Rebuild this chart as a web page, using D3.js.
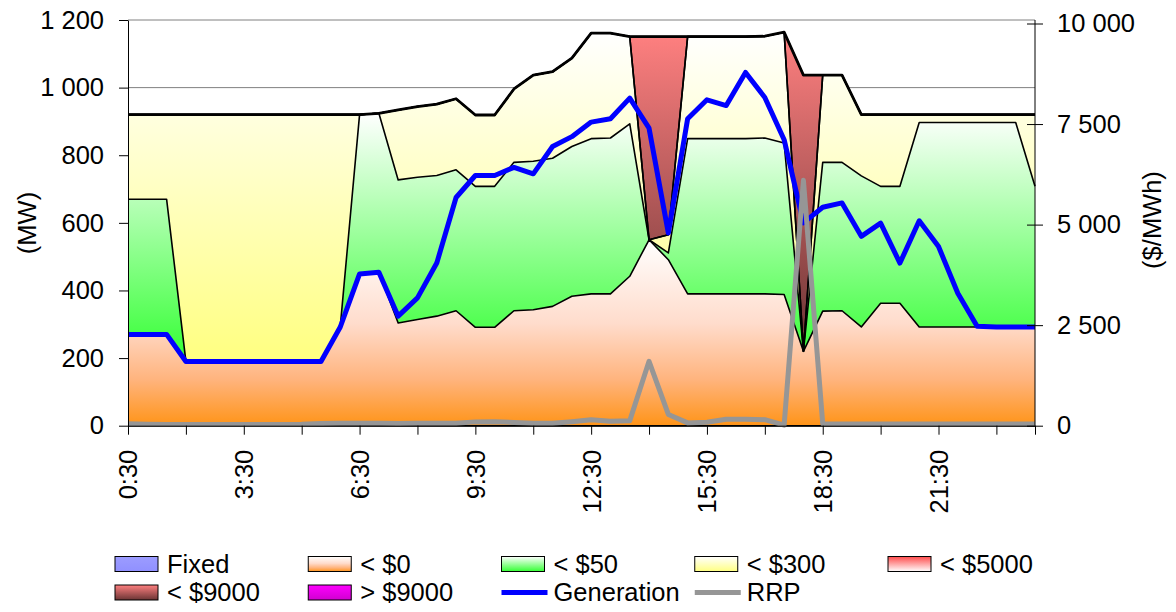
<!DOCTYPE html>
<html>
<head>
<meta charset="utf-8">
<script src="https://cdn.jsdelivr.net/npm/d3@7"></script>
<style>
  body { margin: 0; background: #fff; }
  svg text { font-family: "Liberation Sans", Arial, sans-serif; fill: #000; }
</style>
</head>
<body>
<svg id="chart" width="1176" height="612"></svg>
<script>
// half-hour trading intervals
var times = ["0:30","1:00","1:30","2:00","2:30","3:00","3:30","4:00","4:30","5:00","5:30","6:00",
  "6:30","7:00","7:30","8:00","8:30","9:00","9:30","10:00","10:30","11:00","11:30","12:00",
  "12:30","13:00","13:30","14:00","14:30","15:00","15:30","16:00","16:30","17:00","17:30","18:00",
  "18:30","19:00","19:30","20:00","20:30","21:00","21:30","22:00","22:30","23:00","23:30","24:00"];

// MW offered in each price band
var fixedMW = [0,0,0,0,0,0,0,0,0,0,0,0,0,0,0,0,0,0,0,0,0,0,0,0,0,0,0,0,0,0,0,0,0,0,0,0,0,0,0,0,0,0,0,0,0,0,0,0];
var below0 = [270,270,270,190,190,190,190,190,190,190,190,294,449,454,304,314,324,340,291,291,340,343,353,383,
  390,390,442,550,491,390,390,390,390,390,388,220,339,340,292,362,362,292,292,292,292,292,292,292];
var below50 = [400,400,400,0,0,0,0,0,0,0,0,0,471,470,423,421,416,417,417,417,439,439,438,443,
  459,461,451,0,20,459,459,459,459,461,448,0,440,439,447,346,346,605,605,605,605,605,605,416];
var below300 = [250,250,250,730,730,730,730,730,730,730,730,626,0,0,207,209,211,210,211,211,217,255,256,261,
  312,310,258,0,54,302,302,302,302,301,328,0,258,258,181,212,212,23,23,23,23,23,23,212];
var below5000 = [0,0,0,0,0,0,0,0,0,0,0,0,0,0,0,0,0,0,0,0,0,0,0,0,0,0,0,0,0,0,0,0,0,0,0,0,0,0,0,0,0,0,0,0,0,0,0,0];
var below9000 = [0,0,0,0,0,0,0,0,0,0,0,0,0,0,0,0,0,0,0,0,0,0,0,0,0,0,0,601,586,0,0,0,0,0,0,817,0,0,0,0,0,0,0,0,0,0,0,0];
var above9000 = [0,0,0,0,0,0,0,0,0,0,0,0,0,0,0,0,0,0,0,0,0,0,0,0,0,0,0,0,0,0,0,0,0,0,0,0,0,0,0,0,0,0,0,0,0,0,0,0];

var generation = [270,270,270,190,190,190,190,190,190,190,190,292,449,454,324,378,481,675,740,740,764,745,826,855,
  898,908,969,880,570,908,964,947,1045,971,846,600,646,659,560,599,481,606,530,392,294,292,292,292];
var rrp = [50,35,30,28,28,28,28,28,30,35,55,60,60,58,55,60,60,62,95,100,80,60,60,100,
  150,110,125,1600,280,70,85,160,160,150,15,6100,50,45,45,45,45,45,45,45,45,45,45,45];

var bandKeys = ["Fixed", "< $0", "< $50", "< $300", "< $5000", "< $9000", "> $9000"];
var bandData = [fixedMW, below0, below50, below300, below5000, below9000, above9000];
var bandColors = [
  ["#9c9cff", "#9090ff"],
  ["#ffffff", "#ff9418"],
  ["#ffffff", "#33ff33"],
  ["#ffffff", "#ffff80"],
  ["#ff4c4c", "#ffffff"],
  ["#ff8080", "#6a3434"],
  ["#ff00ff", "#d000d0"]
];
var leftTicks = [0, 200, 400, 600, 800, 1000, 1200];
var rightTicks = [0, 2500, 5000, 7500, 10000];

var svg = d3.select("#chart");
var fmt = d3.formatLocale({decimal: ",", thousands: " ", grouping: [3], currency: ["", ""]}).format(",");

var x = d3.scalePoint().domain(times).range([128, 1035]);
var yL = d3.scaleLinear().domain([0, 1200]).range([425.7, 20]);
var yR = d3.scaleLinear().domain([0, 10000]).range([425.7, 23.5]);

// gradients
var defs = svg.append("defs");
bandKeys.forEach(function(k, i) {
  var g = defs.append("linearGradient").attr("id", "grad" + i)
    .attr("x1", 0).attr("y1", 0).attr("x2", 0).attr("y2", 1);
  if (i === 1) {
    g.append("stop").attr("offset", "0").attr("stop-color", "#ffffff");
    g.append("stop").attr("offset", "0.45").attr("stop-color", "#ffdccc");
    g.append("stop").attr("offset", "0.75").attr("stop-color", "#ffb47e");
    g.append("stop").attr("offset", "1").attr("stop-color", "#ff9418");
  } else {
    g.append("stop").attr("offset", "0").attr("stop-color", bandColors[i][0]);
    g.append("stop").attr("offset", "1").attr("stop-color", bandColors[i][1]);
  }
});

// gridlines
svg.append("g").selectAll("line")
  .data(leftTicks.slice(1))
  .enter().append("line")
  .attr("x1", 128).attr("x2", 1035)
  .attr("y1", function(d) { return yL(d); })
  .attr("y2", function(d) { return yL(d); })
  .attr("stroke", "#808080").attr("stroke-width", 1);

// stacked bands
var table = times.map(function(t, i) {
  var row = {time: t};
  bandKeys.forEach(function(k, j) { row[k] = bandData[j][i]; });
  return row;
});
var stacked = d3.stack().keys(bandKeys)(table);

var area = d3.area()
  .x(function(d) { return x(d.data.time); })
  .y0(function(d) { return yL(d[0]); })
  .y1(function(d) { return yL(d[1]); });

svg.append("g").selectAll("path")
  .data(stacked)
  .enter().append("path")
  .attr("d", area)
  .attr("fill", function(d, i) { return "url(#grad" + i + ")"; })
  .attr("stroke", "none");

var topLine = d3.line()
  .x(function(d) { return x(d.data.time); })
  .y(function(d) { return yL(d[1]); });

svg.append("g").selectAll("path")
  .data(stacked)
  .enter().append("path")
  .attr("d", topLine)
  .attr("fill", "none")
  .attr("stroke", "#000")
  .attr("stroke-width", function(d, i) { return i === stacked.length - 1 ? 2.8 : 1.6; })
  .attr("stroke-linejoin", "round");

// generation and price lines
var genLine = d3.line()
  .x(function(d, i) { return x(times[i]); })
  .y(function(d) { return yL(d); });
var rrpLine = d3.line()
  .x(function(d, i) { return x(times[i]); })
  .y(function(d) { return yR(d); });

svg.append("path").attr("d", genLine(generation))
  .attr("fill", "none").attr("stroke", "#0000ff").attr("stroke-width", 5)
  .attr("stroke-linejoin", "round");
svg.append("path").attr("d", rrpLine(rrp))
  .attr("fill", "none").attr("stroke", "#969696").attr("stroke-width", 5)
  .attr("stroke-linejoin", "round");

// left axis
var gl = svg.append("g").attr("transform", "translate(128,0)")
  .call(d3.axisLeft(yL).tickValues(leftTicks).tickSize(9).tickSizeOuter(0).tickPadding(15).tickFormat(fmt));
gl.select(".domain").attr("stroke", "#000");
gl.selectAll(".tick line").attr("stroke", "#000");
gl.selectAll("text").attr("font-size", "25.5px").attr("font-family", "Liberation Sans, Arial, sans-serif");

// right axis
var gr = svg.append("g").attr("transform", "translate(1035,0)")
  .call(d3.axisRight(yR).tickValues(rightTicks).tickSize(8).tickPadding(14).tickFormat(fmt));
gr.select(".domain").remove();
gr.selectAll(".tick line").attr("x1", -8).attr("x2", 8).attr("stroke", "#000");
gr.selectAll("text").attr("font-size", "25.5px").attr("font-family", "Liberation Sans, Arial, sans-serif");
svg.append("line").attr("x1", 1035).attr("x2", 1035).attr("y1", 20).attr("y2", 425.7)
  .attr("stroke", "#000").attr("stroke-width", 1);

// x axis
var xTicks = times.filter(function(t, i) { return i % 3 === 0 || i === times.length - 1; });
var gx = svg.append("g").attr("transform", "translate(0,425.7)")
  .call(d3.axisBottom(x).tickValues(xTicks).tickSize(9).tickSizeOuter(0)
    .tickFormat(function(t) {
      var i = times.indexOf(t);
      return (i % 6 === 0 && i < times.length - 1) ? t : "";
    }));
gx.select(".domain").attr("stroke", "#000");
gx.selectAll(".tick line").attr("stroke", "#000");
gx.selectAll("text")
  .attr("font-size", "25.5px").attr("font-family", "Liberation Sans, Arial, sans-serif")
  .attr("transform", "rotate(-90)")
  .attr("x", -24).attr("y", 0).attr("dy", "0.35em")
  .attr("text-anchor", "end");

// axis titles
svg.append("text").attr("transform", "translate(27,223) rotate(-90)")
  .attr("text-anchor", "middle").attr("dy", "0.35em")
  .style("font-size", "25.5px").text("(MW)");
svg.append("text").attr("transform", "translate(1152,220) rotate(-90)")
  .attr("text-anchor", "middle").attr("dy", "0.35em")
  .style("font-size", "25.5px").text("($/MWh)");

// legend
var legendItems = bandKeys.map(function(k, i) { return {name: k, kind: "band", idx: i}; })
  .concat([{name: "Generation", kind: "line", color: "#0000ff"}, {name: "RRP", kind: "line", color: "#969696"}]);

var leg = svg.append("g").selectAll("g")
  .data(legendItems)
  .enter().append("g")
  .attr("transform", function(d, i) {
    return "translate(" + (115 + (i % 5) * 193.25) + "," + (564 + Math.floor(i / 5) * 28.5) + ")";
  });

leg.filter(function(d) { return d.kind === "band"; })
  .append("rect")
  .attr("x", 0).attr("y", -7.5).attr("width", 43).attr("height", 15)
  .attr("fill", function(d) { return "url(#grad" + d.idx + ")"; })
  .attr("stroke", "#000").attr("stroke-width", 1);

leg.filter(function(d) { return d.kind === "line"; })
  .append("line")
  .attr("x1", 0).attr("x2", 46).attr("y1", 0).attr("y2", 0)
  .attr("stroke", function(d) { return d.color; }).attr("stroke-width", 5);

leg.append("text")
  .attr("x", 52).attr("dy", "0.35em")
  .style("font-size", "25.5px")
  .text(function(d) { return d.name; });
</script>
</body>
</html>
